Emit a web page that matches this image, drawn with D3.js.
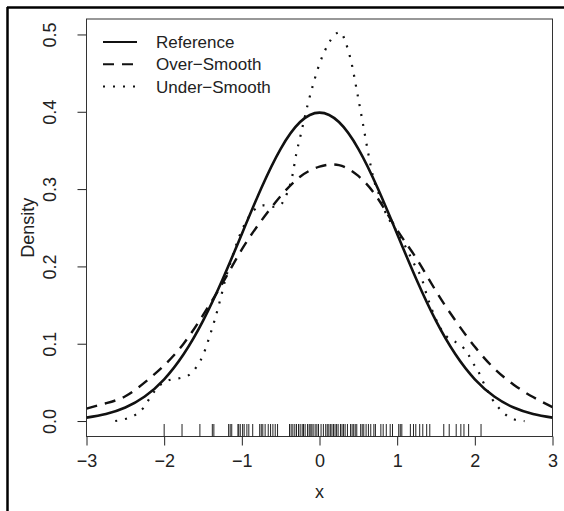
<!DOCTYPE html>
<html><head><meta charset="utf-8">
<script src="https://cdn.jsdelivr.net/npm/d3@7"></script>
<style>body{margin:0;background:#fff}svg{display:block}text{font-family:"Liberation Sans",Arial,Helvetica,sans-serif}</style>
</head><body><svg id="c" width="564" height="511"></svg>
<script>
// Reference density (standard normal), read on a 0.25 grid
const refX = [-3,-2.75,-2.5,-2.25,-2,-1.75,-1.5,-1.25,-1,-0.75,-0.5,-0.25,0,0.25,0.5,0.75,1,1.25,1.5,1.75,2,2.25,2.5,2.75,3];
const refY = [0.0044,0.0091,0.0175,0.0317,0.0540,0.0863,0.1295,0.1827,0.2420,0.3011,0.3521,0.3867,0.3989,0.3867,0.3521,0.3011,0.2420,0.1827,0.1295,0.0863,0.0540,0.0317,0.0175,0.0091,0.0044];
// Over-smooth density
const overX = refX;
const overY = [0.016,0.023,0.032,0.050,0.072,0.100,0.137,0.178,0.222,0.259,0.291,0.316,0.329,0.331,0.317,0.288,0.247,0.210,0.168,0.130,0.096,0.068,0.047,0.031,0.018];
// Under-smooth density
const underX = [-2.63,-2.49,-2.37,-2.26,-2.19,-2.12,-2.02,-1.90,-1.78,-1.66,-1.57,-1.50,-1.42,-1.34,-1.27,-1.21,-1.12,-1.04,-0.96,-0.85,-0.72,-0.61,-0.50,-0.42,-0.35,-0.30,-0.24,-0.15,-0.08,0.0,0.11,0.20,0.27,0.335,0.41,0.485,0.56,0.63,0.70,0.77,0.84,0.90,0.965,1.03,1.12,1.24,1.31,1.39,1.48,1.54,1.63,1.72,1.82,1.91,1.97,2.04,2.10,2.22,2.30,2.40,2.51,2.64];
const underY = [0.0,0.003,0.008,0.018,0.029,0.039,0.049,0.054,0.056,0.061,0.072,0.085,0.108,0.134,0.160,0.184,0.213,0.237,0.255,0.272,0.279,0.277,0.280,0.294,0.317,0.345,0.371,0.410,0.436,0.462,0.487,0.500,0.503,0.490,0.464,0.425,0.384,0.345,0.312,0.292,0.272,0.260,0.250,0.240,0.223,0.199,0.186,0.160,0.136,0.123,0.110,0.104,0.098,0.087,0.076,0.065,0.052,0.029,0.018,0.008,0.002,0.0];
// Rug (observations)
const rugX = [-2.00,-1.77,-1.54,-1.38,-1.36,-1.17,-1.15,-1.13,-1.05,-1.04,-1.02,-0.99,-0.97,-0.935,-0.91,-0.86,-0.77,-0.75,-0.73,-0.70,-0.66,-0.63,-0.60,-0.57,-0.54,-0.386,-0.365,-0.343,-0.318,-0.296,-0.27,-0.249,-0.223,-0.206,-0.185,-0.154,-0.133,-0.12,-0.099,-0.082,-0.056,-0.034,-0.013,0.02,0.05,0.08,0.10,0.12,0.14,0.16,0.18,0.20,0.22,0.24,0.27,0.29,0.31,0.33,0.36,0.40,0.42,0.44,0.46,0.48,0.53,0.55,0.57,0.60,0.63,0.66,0.70,0.72,0.79,0.82,0.86,0.91,0.94,1.02,1.04,1.06,1.17,1.21,1.24,1.29,1.33,1.38,1.42,1.60,1.67,1.76,1.82,1.86,1.92,2.08];
const xTicks = [-3,-2,-1,0,1,2,3];
const yTicks = [0,0.1,0.2,0.3,0.4,0.5];
const legendLabels = ["Reference","Over\u2212Smooth","Under\u2212Smooth"];

const svg = d3.select("#c");
const L = 86.5, R = 552.5, T = 19, B = 436.5;
const x = d3.scaleLinear().domain([-3,3]).range([L,R]);
const y = d3.scaleLinear().domain([-0.02,0.52]).range([B,T]);

// outer frame (top & left)
svg.append("line").attr("x1",7).attr("x2",564).attr("y1",7.5).attr("y2",7.5).attr("stroke","#000").attr("stroke-width",2.5);
svg.append("line").attr("x1",7.5).attr("x2",7.5).attr("y1",7).attr("y2",511).attr("stroke","#000").attr("stroke-width",2.5);

// clip
svg.append("clipPath").attr("id","clip").append("rect").attr("x",L).attr("y",T).attr("width",R-L).attr("height",B-T);

// axes
const fmtY = d => d.toFixed(1);
const xa = svg.append("g").attr("transform",`translate(0,${B})`).call(d3.axisBottom(x).tickValues(xTicks).tickSize(9).tickPadding(9).tickFormat(d=>d<0?"\u2212"+Math.abs(d):String(d)));
xa.select(".domain").remove();
xa.selectAll("line").attr("stroke","#222");
xa.selectAll("text").attr("font-size",18).attr("fill","#222").attr("font-family","Liberation Sans, Arial, sans-serif");

const ya = svg.append("g").attr("transform",`translate(${L},0)`).call(d3.axisLeft(y).tickValues(yTicks).tickSize(9).tickFormat(fmtY));
ya.select(".domain").remove();
ya.selectAll("line").attr("stroke","#222");
ya.selectAll("text").remove();
ya.selectAll(".tick").append("text").attr("transform","translate(-31,0) rotate(-90)").attr("text-anchor","middle").attr("font-size",18).attr("fill","#222").text(fmtY);

// box
svg.append("rect").attr("x",L).attr("y",T).attr("width",R-L).attr("height",B-T).attr("fill","none").attr("stroke","#333").attr("stroke-width",1);

// axis titles
svg.append("text").attr("x",x(0)).attr("y",498).attr("text-anchor","middle").attr("font-size",18).attr("fill","#222").text("x");
svg.append("text").attr("transform",`translate(34,${(y(0)+y(0.5))/2}) rotate(-90)`).attr("text-anchor","middle").attr("font-size",18).attr("fill","#222").text("Density");

// rug
svg.append("g").selectAll("line").data(rugX).join("line")
  .attr("x1",d=>x(d)).attr("x2",d=>x(d)).attr("y1",B).attr("y2",B-12.5)
  .attr("stroke","#222").attr("stroke-width",1);

const g = svg.append("g").attr("clip-path","url(#clip)");
const line = d3.line().x(d=>x(d[0])).y(d=>y(d[1]));
g.append("path").datum(overX.map((v,i)=>[v,overY[i]])).attr("d",line.curve(d3.curveNatural))
  .attr("fill","none").attr("stroke","#111").attr("stroke-width",2.4).attr("stroke-dasharray","11,8");
g.append("path").datum(underX.map((v,i)=>[v,underY[i]])).attr("d",line.curve(d3.curveMonotoneX))
  .attr("fill","none").attr("stroke","#111").attr("stroke-width",2.2).attr("stroke-dasharray","2,8");
g.append("path").datum(refX.map((v,i)=>[v,refY[i]])).attr("d",line.curve(d3.curveNatural))
  .attr("fill","none").attr("stroke","#111").attr("stroke-width",2.6);

// legend
const dashes = [null,"11,8","2,8"];
const lg = svg.append("g");
legendLabels.forEach((lab,i)=>{
  const yy = 42 + i*22.3;
  lg.append("line").attr("x1",103).attr("x2",137).attr("y1",yy).attr("y2",yy).attr("stroke","#111").attr("stroke-width",i==0?2.2:2).attr("stroke-dasharray",dashes[i]);
  lg.append("text").attr("x",156).attr("y",yy+6).attr("font-size",17).attr("fill","#222").text(lab);
});
</script></body></html>
